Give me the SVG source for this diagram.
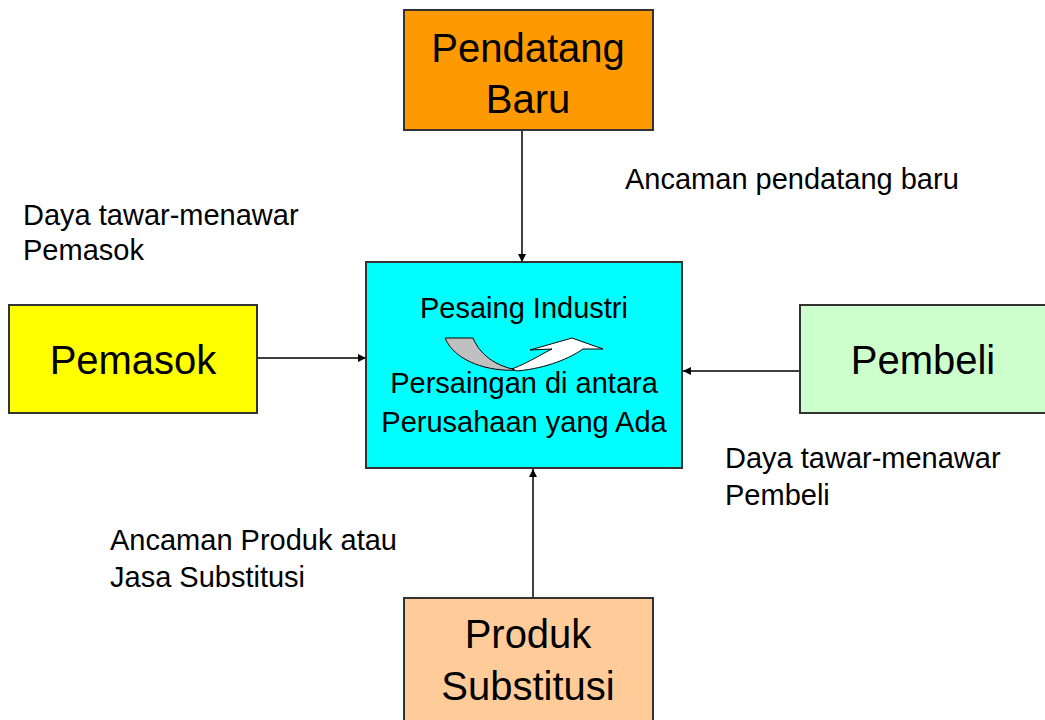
<svg xmlns="http://www.w3.org/2000/svg" width="1045" height="720" viewBox="0 0 1045 720">
  <style>
    .box { stroke: #333; stroke-width: 2; }
    .big { font-family: "Liberation Sans", Arial, sans-serif; font-size: 40px; fill: #000; text-anchor: middle; }
    .mid { font-family: "Liberation Sans", Arial, sans-serif; font-size: 29px; fill: #000; text-anchor: middle; }
    .lbl { font-family: "Liberation Sans", Arial, sans-serif; font-size: 29px; fill: #000; }
    .conn { stroke: #000; stroke-width: 1.5; fill: none; marker-end: url(#arr); }
  </style>
  <defs>
    <marker id="arr" viewBox="0 0 10 10" refX="10" refY="5" markerWidth="8" markerHeight="8" markerUnits="userSpaceOnUse" orient="auto">
      <path d="M0,0 L10,5 L0,10 Z" fill="#000"/>
    </marker>
  </defs>
  <rect width="1045" height="720" fill="#fff"/>

  <g id="connectors">
    <line class="conn" x1="522" y1="131" x2="522" y2="262"/>
    <line class="conn" x1="258" y1="358" x2="366" y2="358"/>
    <line class="conn" x1="800" y1="371" x2="683" y2="371"/>
    <line class="conn" x1="533" y1="598" x2="533" y2="469"/>
  </g>

  <g id="pendatang-baru">
    <rect class="box" x="404" y="10" width="249" height="120" fill="#FF9900"/>
    <text class="big" x="528" y="62">Pendatang</text>
    <text class="big" x="528" y="113">Baru</text>
  </g>

  <g id="pemasok">
    <rect class="box" x="9" y="305" width="248" height="108" fill="#FFFF00"/>
    <text class="big" x="133" y="374">Pemasok</text>
  </g>

  <g id="pesaing-industri">
    <rect class="box" x="366" y="262" width="316" height="206" fill="#00FFFF"/>
    <text class="mid" x="524" y="318">Pesaing Industri</text>
    <path d="M445,338 L473,338 C478,350 490,365 517,370 C490,372 455,362 445,338 Z" fill="#C0C0C0" stroke="#000" stroke-width="1"/>
    <path d="M512,369 C530,362 545,352 552,349 L530,350 L572,338 L603,349 L583,349 C570,358 548,368 517,371 Z" fill="#FFFFFF" stroke="#000" stroke-width="1"/>
    <text class="mid" x="524" y="393">Persaingan di antara</text>
    <text class="mid" x="524" y="432">Perusahaan yang Ada</text>
  </g>

  <g id="pembeli">
    <rect class="box" x="800" y="305" width="250" height="108" fill="#CCFFCC" stroke="#555"/>
    <text class="big" x="923" y="374">Pembeli</text>
  </g>

  <g id="produk-substitusi">
    <rect class="box" x="404" y="598" width="249" height="125" fill="#FFCC99"/>
    <text class="big" x="528" y="648">Produk</text>
    <text class="big" x="528" y="700">Substitusi</text>
  </g>

  <g id="labels">
    <text class="lbl" x="625" y="189">Ancaman pendatang baru</text>
    <text class="lbl" x="23" y="225">Daya tawar-menawar</text>
    <text class="lbl" x="23" y="260">Pemasok</text>
    <text class="lbl" x="725" y="468">Daya tawar-menawar</text>
    <text class="lbl" x="725" y="505">Pembeli</text>
    <text class="lbl" x="110" y="550">Ancaman Produk atau</text>
    <text class="lbl" x="110" y="587">Jasa Substitusi</text>
  </g>
</svg>
